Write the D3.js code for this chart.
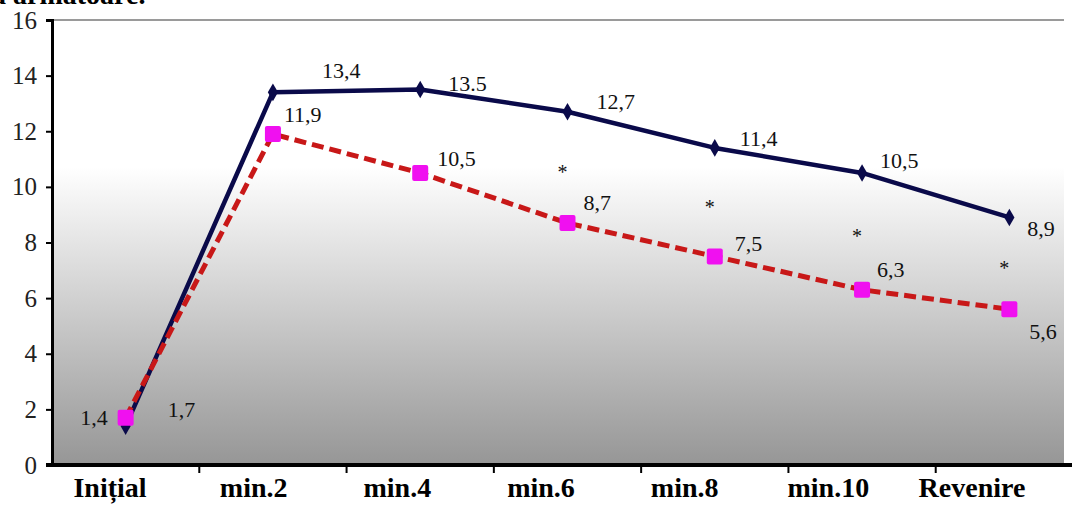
<!DOCTYPE html>
<html>
<head>
<meta charset="utf-8">
<script src="https://cdn.jsdelivr.net/npm/d3@7/dist/d3.min.js"></script>
<style>
  html, body { margin: 0; padding: 0; background: #fff; }
  svg { display: block; }
  svg text { font-family: "Liberation Serif", "Times New Roman", Tinos, "DejaVu Serif", serif !important; }
</style>
</head>
<body>
<svg id="chart" width="1072" height="506"></svg>
<script>
// Categories (measurement moments) and the two series
const categories = ["Inițial", "min.2", "min.4", "min.6", "min.8", "min.10", "Revenire"];
const seriesA = [1.4, 13.4, 13.5, 12.7, 11.4, 10.5, 8.9];
const seriesB = [1.7, 11.9, 10.5, 8.7, 7.5, 6.3, 5.6];
const labelsA = ["1,4", "13,4", "13.5", "12,7", "11,4", "10,5", "8,9"];
const labelsB = ["1,7", "11,9", "10,5", "8,7", "7,5", "6,3", "5,6"];
// significant difference marker per category
const significant = [false, false, false, true, true, true, true];
const yTicks = [0, 2, 4, 6, 8, 10, 12, 14, 16];

const SERIF = "'Liberation Serif', 'Times New Roman', Tinos, 'DejaVu Serif', serif";

// Label offsets (pixels, baseline) relative to each point
const offA = [[-18, -1, "end"], [49, -14, "start"], [28, 1, "start"], [29, -3, "start"], [25, -2, "start"], [18, -5, "start"], [18, 19, "start"]];
const offB = [[42, -1, "start"], [11, -12, "start"], [17, -7, "start"], [16, -13, "start"], [20, -5, "start"], [15, -13, "start"], [20, 30, "start"]];

const svg = d3.select("#chart");
const plot = { left: 52, right: 1083, top: 20, bottom: 465, edge: 1064 };

const x = d3.scaleBand().domain(categories).range([plot.left, plot.right]);
const xLabel = d3.scalePoint().domain(categories).range([110, 972]);
const y = d3.scaleLinear().domain([0, 16]).range([plot.bottom, plot.top]);
const cx = c => x(c) + x.bandwidth() / 2;

// background gradient of the plot area
const defs = svg.append("defs");
const grad = defs.append("linearGradient").attr("id", "bg")
  .attr("x1", 0).attr("y1", 0).attr("x2", 0).attr("y2", 1);
grad.append("stop").attr("offset", "0%").attr("stop-color", "#ffffff");
grad.append("stop").attr("offset", "33%").attr("stop-color", "#ffffff");
grad.append("stop").attr("offset", "100%").attr("stop-color", "#969696");

svg.append("rect")
  .attr("x", plot.left).attr("y", plot.top)
  .attr("width", plot.edge - plot.left).attr("height", plot.bottom - plot.top)
  .attr("fill", "url(#bg)");

// top border
svg.append("line")
  .attr("x1", plot.left).attr("x2", plot.edge)
  .attr("y1", plot.top).attr("y2", plot.top)
  .attr("stroke", "#9a9a9a").attr("stroke-width", 2);

// heading fragment
svg.append("text")
  .attr("x", -8).attr("y", 4)
  .attr("font-family", SERIF)
  .attr("font-size", 28).attr("font-weight", "bold").attr("fill", "#000")
  .text("ă armătoare.");

// Y axis
const yAxis = d3.axisLeft(y).tickValues(yTicks).tickSize(6).tickPadding(9).tickFormat(d3.format("d"));
const gy = svg.append("g").attr("transform", `translate(${plot.left},0)`).call(yAxis)
  .attr("font-family", SERIF);
gy.select(".domain").attr("stroke", "#000").attr("stroke-width", 3);
gy.selectAll(".tick line").attr("stroke", "#000").attr("stroke-width", 2);
gy.selectAll(".tick text").attr("font-size", 25).attr("fill", "#222")
  .attr("font-family", SERIF);

// X axis (ticks on band boundaries)
const boundaries = categories.slice(1).map(c => x(c));
svg.append("line")
  .attr("x1", plot.left - 6).attr("x2", 1072)
  .attr("y1", plot.bottom).attr("y2", plot.bottom)
  .attr("stroke", "#000").attr("stroke-width", 4);
svg.append("g").selectAll("line").data(boundaries).join("line")
  .attr("x1", d => d).attr("x2", d => d)
  .attr("y1", plot.bottom).attr("y2", plot.bottom + 8)
  .attr("stroke", "#000").attr("stroke-width", 2);

svg.append("g").selectAll("text").data(categories).join("text")
  .attr("x", d => xLabel(d)).attr("y", 497)
  .attr("text-anchor", "middle")
  .attr("font-family", SERIF)
  .attr("font-size", 28).attr("font-weight", "bold").attr("fill", "#000")
  .text(d => d);

// lines
const line = d3.line().x((d, i) => cx(categories[i])).y(d => y(d));

svg.append("path").datum(seriesA)
  .attr("d", line).attr("fill", "none")
  .attr("stroke", "#0a0a4a").attr("stroke-width", 4.5).attr("stroke-linejoin", "round");

svg.append("g").selectAll("path").data(seriesA).join("path")
  .attr("transform", (d, i) => `translate(${cx(categories[i])},${y(d)})`)
  .attr("d", d3.symbol(d3.symbolDiamond, 90))
  .attr("fill", "#0a0a4a");

svg.append("path").datum(seriesB)
  .attr("d", line).attr("fill", "none")
  .attr("stroke", "#c81818").attr("stroke-width", 5).attr("stroke-dasharray", "12,6");

svg.append("g").selectAll("rect").data(seriesB).join("rect")
  .attr("x", (d, i) => cx(categories[i]) - 8).attr("y", d => y(d) - 8)
  .attr("width", 16).attr("height", 16).attr("rx", 2)
  .attr("fill", "#f010f0");

// significance markers between the two series
svg.append("g").selectAll("text").data(categories.filter((c, i) => significant[i])).join("text")
  .attr("x", c => cx(c) - 5)
  .attr("y", c => { const i = categories.indexOf(c); return y((seriesA[i] + seriesB[i]) / 2) + 12; })
  .attr("text-anchor", "middle").attr("font-size", 20).attr("fill", "#111")
  .attr("font-family", SERIF)
  .text("*");

// value labels
function drawLabels(values, labels, offs) {
  svg.append("g").selectAll("text").data(values).join("text")
    .attr("x", (d, i) => cx(categories[i]) + offs[i][0])
    .attr("y", (d, i) => y(d) + offs[i][1])
    .attr("text-anchor", (d, i) => offs[i][2])
    .attr("font-family", SERIF)
    .attr("font-size", 22).attr("fill", "#111")
    .text((d, i) => labels[i]);
}
drawLabels(seriesA, labelsA, offA);
drawLabels(seriesB, labelsB, offB);
</script>
</body>
</html>
